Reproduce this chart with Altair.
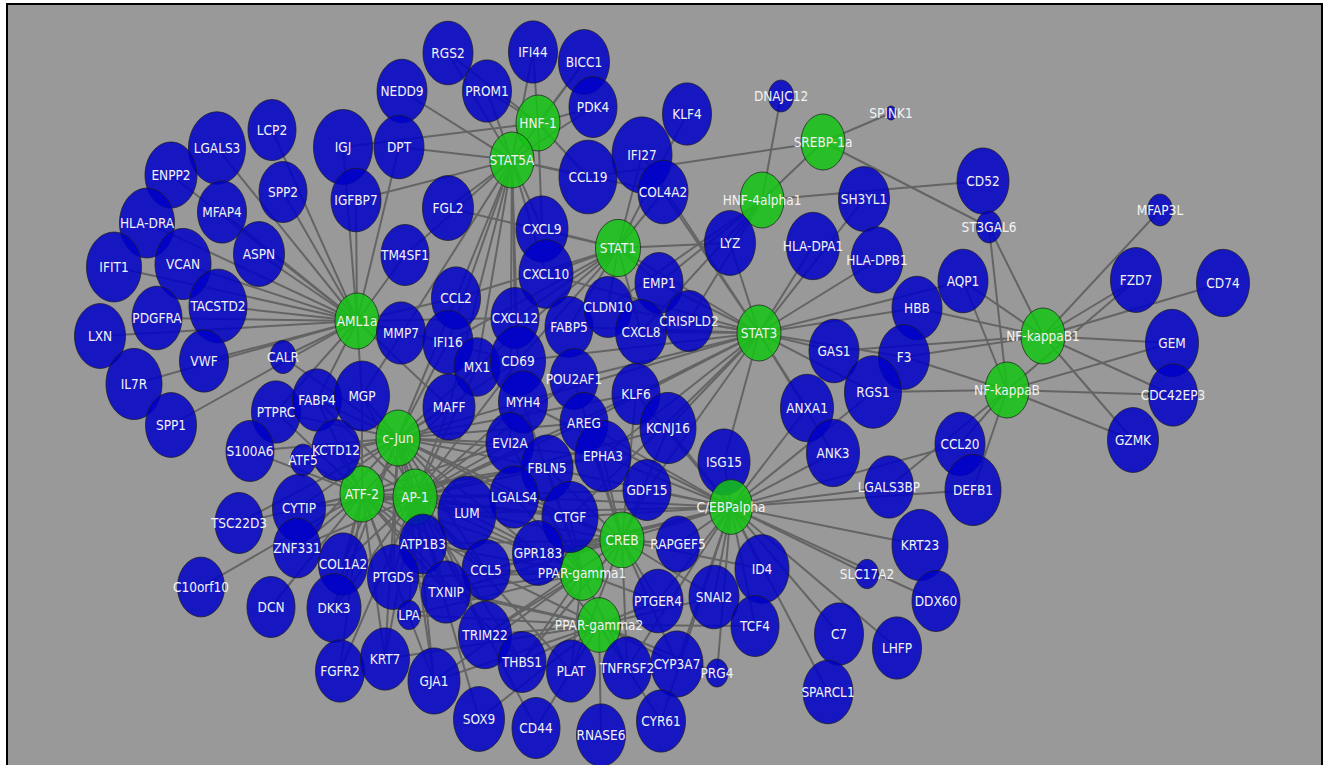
import altair as alt
import pandas as pd
import numpy as np

# ---- gene nodes: name, layout position (px), node diameter ----
gene_names = [
    "RGS2", "IFI44", "BICC1", "NEDD9", "PROM1", "PDK4", "KLF4", "DNAJC12", "SPINK1",
    "LGALS3", "LCP2", "ENPP2", "IGJ", "DPT", "IFI27", "CCL19", "COL4A2", "CD52",
    "SH3YL1", "MFAP3L", "HLA-DRA", "MFAP4", "SPP2", "IGFBP7", "FGL2", "ST3GAL6",
    "CXCL9", "LYZ", "HLA-DPA1", "HLA-DPB1", "FZD7", "CD74", "IFIT1", "VCAN", "ASPN",
    "TM4SF1", "AQP1", "CXCL10", "EMP1", "HBB", "LXN", "PDGFRA", "TACSTD2", "MMP7",
    "CCL2", "CXCL12", "FABP5", "CLDN10", "CXCL8", "CRISPLD2", "GEM", "IL7R", "VWF",
    "CALR", "IFI16", "MX1", "CD69", "GAS1", "F3", "RGS1", "CDC42EP3", "SPP1", "PTPRC",
    "FABP4", "MGP", "MAFF", "MYH4", "POU2AF1", "KLF6", "ANXA1", "S100A6", "ATF5",
    "KCTD12", "EVI2A", "AREG", "EPHA3", "KCNJ16", "ISG15", "ANK3", "CCL20", "GZMK",
    "FBLN5", "LGALS4", "GDF15", "LGALS3BP", "DEFB1", "TSC22D3", "CYTIP", "LUM", "CTGF",
    "ZNF331", "ATP1B3", "RAPGEF5", "ID4", "KRT23", "C10orf10", "COL1A2", "PTGDS",
    "GPR183", "CCL5", "TXNIP", "PTGER4", "SNAI2", "SLC17A2", "DCN", "DKK3", "LPA",
    "TRIM22", "TCF4", "C7", "DDX60", "FGFR2", "KRT7", "GJA1", "THBS1", "PLAT",
    "TNFRSF2", "CYP3A7", "PRG4", "LHFP", "SPARCL1", "SOX9", "CD44", "RNASE6", "CYR61",
]
gene_x = [
    448, 533, 584, 402, 487, 593, 687, 781, 891,
    217, 272, 171, 343, 399, 642, 588, 663, 983,
    864, 1160, 147, 222, 283, 356, 448, 989,
    542, 730, 813, 877, 1136, 1223, 114, 183, 259,
    405, 963, 546, 659, 917, 100, 157, 218, 401,
    456, 515, 569, 608, 641, 689, 1172, 134, 204,
    283, 448, 477, 518, 834, 904, 873, 1173, 171, 276,
    317, 362, 449, 523, 574, 636, 807, 250, 303,
    336, 510, 584, 603, 668, 724, 833, 960, 1133,
    547, 514, 647, 889, 973, 239, 299, 467, 570,
    297, 423, 678, 762, 920, 201, 343, 393,
    538, 486, 446, 658, 714, 867, 271, 334, 409,
    485, 755, 839, 936, 340, 385, 434, 522, 571,
    627, 677, 717, 897, 828, 479, 536, 601, 661,
]
gene_y = [
    53, 52, 62, 91, 91, 107, 114, 96, 113,
    148, 130, 175, 147, 147, 155, 177, 192, 181,
    199, 210, 223, 212, 192, 200, 208, 227,
    229, 243, 246, 260, 280, 283, 267, 264, 254,
    255, 281, 274, 283, 308, 336, 318, 306, 333,
    298, 318, 327, 307, 332, 321, 343, 384, 361,
    357, 342, 367, 361, 351, 357, 392, 395, 425, 412,
    400, 396, 407, 402, 379, 394, 408, 451, 460,
    450, 443, 423, 456, 428, 462, 453, 444, 440,
    468, 497, 490, 487, 490, 523, 508, 513, 517,
    548, 544, 544, 569, 545, 587, 564, 577,
    553, 570, 592, 601, 597, 574, 607, 608, 615,
    635, 626, 634, 601, 671, 659, 681, 662, 671,
    668, 664, 673, 648, 692, 719, 728, 735, 721,
]
gene_size = [
    50, 49, 51, 50, 49, 48, 49, 25, 11,
    57, 48, 52, 59, 50, 60, 58, 50, 52,
    51, 25, 55, 49, 48, 50, 51, 25,
    52, 51, 53, 52, 51, 53, 55, 56, 51,
    48, 50, 54, 48, 50, 51, 50, 58, 49,
    49, 48, 48, 48, 51, 48, 53, 56, 49,
    26, 50, 46, 55, 50, 51, 57, 49, 51, 49,
    49, 55, 52, 49, 48, 48, 53, 48, 25,
    48, 48, 48, 56, 56, 52, 53, 50, 51,
    52, 49, 48, 49, 56, 48, 53, 58, 56,
    47, 47, 44, 54, 56, 47, 49, 51,
    51, 48, 49, 50, 50, 23, 48, 54, 23,
    53, 48, 49, 48, 49, 49, 52, 48, 49,
    49, 52, 22, 49, 50, 51, 48, 49, 49,
]

# ---- transcription-factor nodes ----
tf_names = ["HNF-1", "STAT5A", "SREBP-1a", "HNF-4alpha1", "STAT1", "AML1a", "STAT3",
            "NF-kappaB1", "NF-kappaB", "c-Jun", "ATF-2", "AP-1", "CREB",
            "PPAR-gamma1", "PPAR-gamma2", "C/EBPalpha"]
tf_x = [538, 512, 823, 762, 618, 357, 759, 1043, 1007, 398, 362, 415, 622, 582, 599, 731]
tf_y = [123, 160, 142, 200, 248, 321, 333, 336, 390, 438, 494, 497, 540, 573, 625, 507]
tf_size = [44, 44, 44, 44, 45, 44, 44, 44, 44, 44, 44, 44, 44, 43, 43, 43]

# ---- regulatory links: targets of each transcription factor ----
hnf1_targets = ["RGS2", "PROM1", "IFI44", "BICC1", "PDK4", "IGJ", "CXCL9", "CCL19"]
stat5a_targets = ["NEDD9", "DPT", "IGFBP7", "TM4SF1", "FGL2", "RGS2", "PROM1", "IFI44",
                  "BICC1", "PDK4", "CCL19", "COL4A2", "CXCL9", "CXCL10", "CCL2", "IFI16",
                  "MX1", "CD69", "CXCL12", "MAFF", "MGP", "EVI2A"]
stat1_targets = ["CXCL9", "CXCL10", "IFI27", "COL4A2", "FGL2", "CCL2", "IFI16", "MX1",
                 "CXCL12", "CLDN10", "EMP1", "CXCL8", "FABP5", "CD69", "KLF4", "LYZ"]
srebp1a_targets = ["CCL19", "SPINK1", "ST3GAL6"]
hnf4a1_targets = ["DNAJC12", "CD52", "LYZ", "EMP1", "CXCL8", "CRISPLD2", "CLDN10"]
aml1a_targets = ["LCP2", "LGALS3", "ENPP2", "HLA-DRA", "MFAP4", "SPP2", "ASPN", "IFIT1",
                 "VCAN", "TACSTD2", "PDGFRA", "LXN", "VWF", "IL7R", "SPP1", "IGJ", "IGFBP7",
                 "DPT", "TM4SF1", "CCL2", "MMP7", "CXCL12", "CD69", "MGP", "FABP4", "PTPRC",
                 "MAFF", "IFI16", "CALR"]
stat3_targets = ["LYZ", "HLA-DPA1", "HLA-DPB1", "SH3YL1", "AQP1", "HBB", "F3", "GAS1",
                 "RGS1", "ANXA1", "ANK3", "ISG15", "KLF6", "KCNJ16", "CXCL8", "CRISPLD2",
                 "EMP1", "CLDN10", "COL4A2", "IFI27", "CXCL10", "POU2AF1", "FABP5", "CD69",
                 "GDF15", "CTGF", "EPHA3", "MYH4", "AREG"]
nfkb1_targets = ["MFAP3L", "FZD7", "CD74", "GEM", "CDC42EP3", "GZMK", "ST3GAL6", "AQP1",
                 "F3", "GAS1", "HBB"]
nfkb_targets = ["ST3GAL6", "AQP1", "FZD7", "GEM", "CDC42EP3", "GZMK", "CCL20", "DEFB1",
                "LGALS3BP", "RGS1", "F3"]
cebpa_targets = ["ISG15", "GDF15", "KCNJ16", "KLF6", "EPHA3", "RAPGEF5", "ID4", "SNAI2",
                 "TCF4", "PRG4", "PTGER4", "CYP3A7", "C7", "SPARCL1", "LHFP", "DDX60",
                 "KRT23", "LGALS3BP", "DEFB1", "CCL20", "SLC17A2", "ANXA1", "ANK3", "CTGF",
                 "LGALS4", "GPR183", "TNFRSF2", "CYR61", "AREG", "FBLN5", "LUM", "CCL5",
                 "TXNIP", "RGS1", "MYH4"]
creb_targets = ["GPR183", "CTGF", "GDF15", "EPHA3", "RAPGEF5", "PTGER4", "SNAI2", "CYP3A7",
                "TNFRSF2", "PLAT", "LUM", "CCL5", "TRIM22", "LGALS4", "FBLN5", "AREG",
                "KLF6", "KCNJ16", "THBS1", "ID4", "TXNIP", "ATP1B3", "POU2AF1"]
pparg1_targets = ["GPR183", "CCL5", "TXNIP", "TRIM22", "THBS1", "PLAT", "LUM", "ATP1B3",
                  "CTGF", "LGALS4", "PTGDS", "LPA", "EVI2A", "FBLN5", "MYH4", "TNFRSF2",
                  "PTGER4", "GJA1"]
pparg2_targets = ["THBS1", "PLAT", "TNFRSF2", "CYP3A7", "CYR61", "RNASE6", "CD44", "SOX9",
                  "TRIM22", "GJA1", "TXNIP", "PTGER4", "CCL5", "GPR183", "KRT7", "LPA",
                  "PTGDS", "SNAI2", "PRG4", "TCF4"]
cjun_targets = ["KCTD12", "ATF5", "FABP4", "PTPRC", "S100A6", "MGP", "MAFF", "CYTIP",
                "TSC22D3", "ZNF331", "COL1A2", "DKK3", "PTGDS", "ATP1B3", "LUM", "LGALS4",
                "EVI2A", "FBLN5", "CTGF", "GPR183", "CCL5", "TXNIP", "TRIM22", "MYH4",
                "AREG", "EPHA3", "CALR", "IFI16", "MX1", "CD69", "CCL2", "GJA1", "KRT7",
                "KLF6"]
atf2_targets = ["KCTD12", "ATF5", "S100A6", "CYTIP", "TSC22D3", "C10orf10", "ZNF331", "DCN",
                "COL1A2", "DKK3", "FGFR2", "KRT7", "PTGDS", "LPA", "ATP1B3", "TXNIP", "LUM",
                "CCL5", "FBLN5", "LGALS4", "CTGF", "EPHA3", "GPR183", "PTPRC", "FABP4",
                "MAFF", "EVI2A", "GJA1", "THBS1", "MGP"]
ap1_targets = ["KCTD12", "CYTIP", "ZNF331", "COL1A2", "DKK3", "PTGDS", "LPA", "ATP1B3",
               "TXNIP", "LUM", "CCL5", "TRIM22", "GJA1", "KRT7", "FGFR2", "LGALS4", "EVI2A",
               "FBLN5", "CTGF", "GPR183", "MAFF", "MYH4", "AREG", "EPHA3", "KLF6", "KCNJ16",
               "GDF15", "MGP", "FABP4", "THBS1", "PLAT", "SOX9", "CD44", "MX1", "CD69",
               "POU2AF1"]
tf_tf_links = [("SREBP-1a", "HNF-4alpha1"), ("STAT1", "STAT3")]

regulons = [
    ("HNF-1", hnf1_targets), ("STAT5A", stat5a_targets), ("STAT1", stat1_targets),
    ("SREBP-1a", srebp1a_targets), ("HNF-4alpha1", hnf4a1_targets),
    ("AML1a", aml1a_targets), ("STAT3", stat3_targets), ("NF-kappaB1", nfkb1_targets),
    ("NF-kappaB", nfkb_targets), ("C/EBPalpha", cebpa_targets), ("CREB", creb_targets),
    ("PPAR-gamma1", pparg1_targets), ("PPAR-gamma2", pparg2_targets),
    ("c-Jun", cjun_targets), ("ATF-2", atf2_targets), ("AP-1", ap1_targets),
]

# ---- tables built from the lists above ----
genes = pd.DataFrame({"name": gene_names, "x": gene_x, "y": gene_y,
                      "size": gene_size, "kind": "gene"})
tfs = pd.DataFrame({"name": tf_names, "x": tf_x, "y": tf_y,
                    "size": tf_size, "kind": "tf"})
# TFs underneath genes, except C/EBPalpha which sits on top of its neighbours
nodes = pd.concat([tfs[tfs.name != "C/EBPalpha"], genes, tfs[tfs.name == "C/EBPalpha"]],
                  ignore_index=True)
nodes["draw"] = np.arange(len(nodes))

where = {n: (x, y) for n, x, y in zip(nodes.name, nodes.x, nodes.y)}
links = [(tf, g) for tf, targets in regulons for g in targets] + tf_tf_links
edges = pd.DataFrame([{"x": where[a][0], "y": where[a][1],
                       "x2": where[b][0], "y2": where[b][1]} for a, b in links])

# ---- scales: layout coordinates are page pixels, y grows downward ----
W, H = 1328, 765
xs = alt.Scale(domain=[0, W], range=[0, W], nice=False, zero=False)
ys = alt.Scale(domain=[0, H], range=[0, H], nice=False, zero=False)
size_scale = alt.Scale(type="pow", exponent=2, domain=[0, 60], range=[0, 3600])

# ellipse outline (taller than wide), unit half-width
t = np.linspace(0, 2 * np.pi, 72, endpoint=False)
ellipse = "M" + "L".join(f"{np.cos(a):.4f},{1.27 * np.sin(a):.4f}" for a in t) + "Z"

frame = alt.Chart(alt.Data(values=[{}])).mark_rect(
    fill="#999999", stroke="#000000", strokeWidth=2
).encode(x=alt.value(7), x2=alt.value(1322), y=alt.value(4), y2=alt.value(800))

edge_layer = alt.Chart(edges).mark_rule(color="#646464", strokeWidth=2).encode(
    x=alt.X("x:Q", scale=xs, axis=None),
    y=alt.Y("y:Q", scale=ys, axis=None),
    x2="x2:Q",
    y2="y2:Q",
)

node_layer = alt.Chart(nodes).mark_point(
    shape=ellipse, filled=True, fillOpacity=0.85, stroke="#1a1a1a", strokeWidth=0.8,
    strokeOpacity=0.9
).encode(
    x=alt.X("x:Q", scale=xs, axis=None),
    y=alt.Y("y:Q", scale=ys, axis=None),
    size=alt.Size("size:Q", scale=size_scale, legend=None),
    fill=alt.Fill("kind:N", scale=alt.Scale(domain=["gene", "tf"],
                                            range=["#0000c8", "#14c414"]), legend=None),
    order=alt.Order("draw:Q"),
)

label_layer = alt.Chart(nodes).mark_text(
    font="Liberation Sans Narrow, Arial Narrow, DejaVu Sans Condensed, sans-serif",
    fontSize=13.5, color="#f2f2f2", baseline="middle", align="center", dy=1
).encode(
    x=alt.X("x:Q", scale=xs, axis=None),
    y=alt.Y("y:Q", scale=ys, axis=None),
    text="name:N",
)

chart = alt.layer(frame, edge_layer, node_layer, label_layer).properties(
    width=W, height=H, padding=0, autosize="none", background="#ffffff"
).configure_view(stroke=None)

chart.save("out.html", embed_options={"renderer": "svg", "actions": False})
